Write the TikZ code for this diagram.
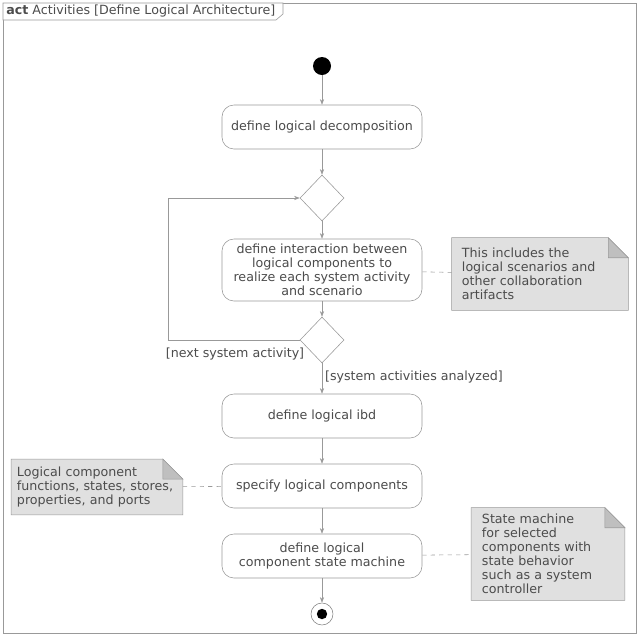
\documentclass[tikz,border=0pt]{standalone}
\usepackage{fontspec}
\setmainfont{DejaVu Sans}
\usetikzlibrary{shapes.geometric,arrows.meta,backgrounds}

\begin{document}
\begin{tikzpicture}[x=0.025cm,y=-0.025cm,
  font=\fontsize{9}{10}\selectfont,
  every node/.style={text=black!70},
  flow/.style={draw=black!40,-{Stealth[length=4pt]}},
  act/.style={draw=black!40,fill=white,rounded corners=0.3cm,minimum width=5cm,minimum height=1.1cm,align=center},
  choice/.style={diamond,draw=black!40,fill=white,minimum width=1.1cm,minimum height=1.15cm,inner sep=0pt},
  notebox/.style={align=left,inner sep=3pt},
  link/.style={draw=black!40,dashed}]
\useasboundingbox (0,0) rectangle (640,640);
% frame
\draw[black!40] (3,3) rectangle (636,633);
\draw[black!40,fill=white] (3,3) -- (283,3) -- (283,14) -- (276,20) -- (3,20) -- cycle;
\node[anchor=west,inner sep=0] (title) at (6,11) {\textbf{act} Activities [Define Logical Architecture]};
% flow
\node[circle,fill=black,minimum size=0.45cm,inner sep=0] (init) at (322,66) {};
\node[act] (decomp) at (322,127) {define logical decomposition};
\node[choice] (merge) at (322,198) {};
\node[act,minimum height=1.55cm] (inter) at (322,270) {define interaction between\\logical components to\\realize each system activity\\and scenario};
\node[choice] (dec) at (322,340) {};
\node[act] (ibd) at (322,416) {define logical ibd};
\node[act] (spec) at (322,486) {specify logical components};
\node[act] (stm) at (322,556) {define logical\\component state machine};
\node[circle,draw=black!50,fill=white,minimum size=0.55cm,inner sep=0] (fin) at (322,614) {};
\fill[black] (fin.center) circle (0.13cm);
\draw[flow] (init) -- (decomp);
\draw[flow] (decomp) -- (merge);
\draw[flow] (merge) -- (inter);
\draw[flow] (inter) -- (dec);
\draw[flow] (dec) -- (ibd) node[pos=0.45,right,inner sep=2pt] {[system activities analyzed]};
\draw[flow] (ibd) -- (spec);
\draw[flow] (spec) -- (stm);
\draw[flow] (stm) -- (fin);
% loop back
\coordinate (lb) at (168,340);
\coordinate (lt) at (168,198);
\draw[flow] (dec.west) -- (lb) -- (lt) -- (merge.west);
\node[anchor=north] (next) at (235,343) {[next system activity]};
% notes
\node[notebox,minimum width=4.4cm,minimum height=1.8cm,text width=3.9cm] (n1) at (540,274) {This includes the\\logical scenarios and\\other collaboration\\artifacts};
\node[notebox,minimum width=4.28cm,minimum height=1.38cm,text width=4cm] (n2) at (97,487) {Logical component\\functions, states, stores,\\properties, and ports};
\node[notebox,minimum width=3.83cm,minimum height=2.3cm,text width=3.3cm] (n3) at (548,554) {State machine\\for selected\\components with\\state behavior\\such as a system\\controller};
\begin{scope}[on background layer]
\foreach \n in {n1,n2,n3}{
  \draw[black!40,fill=black!12] (\n.south west) -- (\n.north west) -- ([xshift=-0.5cm]\n.north east) -- ([yshift=-0.5cm]\n.north east) -- (\n.south east) -- cycle;
  \draw[black!40,fill=black!25] ([xshift=-0.5cm]\n.north east) -- ([xshift=-0.5cm,yshift=-0.5cm]\n.north east) -- ([yshift=-0.5cm]\n.north east) -- cycle;
}
\end{scope}
\draw[link] (inter) -- (n1);
\draw[link] (n2) -- (spec);
\draw[link] (stm) -- (n3);
\end{tikzpicture}
\end{document}
